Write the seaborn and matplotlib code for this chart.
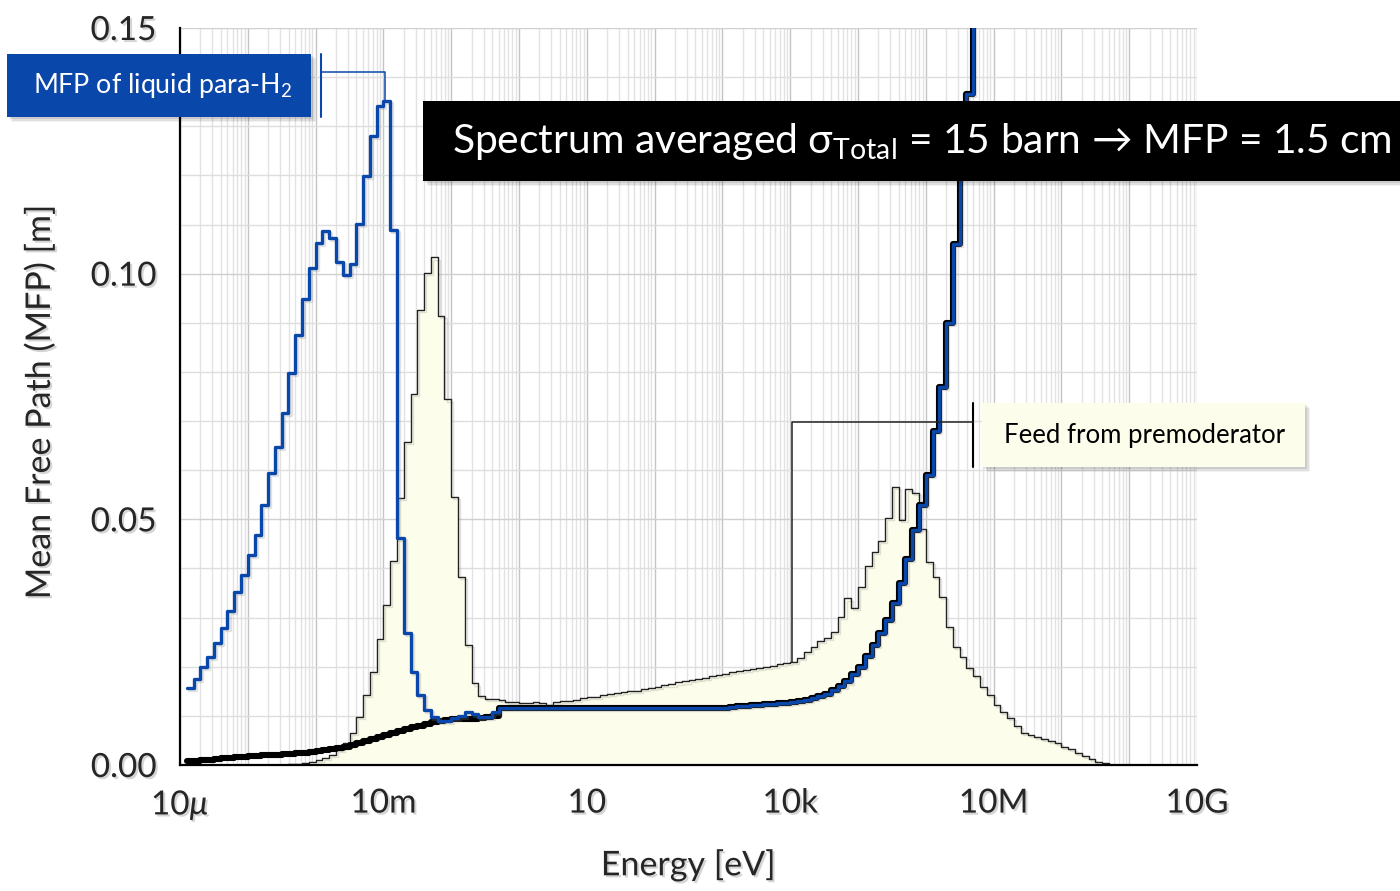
import numpy as np
import pandas as pd
import matplotlib
matplotlib.use("Agg")
import matplotlib.pyplot as plt
import matplotlib.patheffects as pe
from matplotlib.patches import Rectangle
from matplotlib.ticker import LogLocator, FuncFormatter, MultipleLocator
import seaborn as sns

# ---------------------------------------------------------------------------
# Energy grid: 10 logarithmic bins per decade from 10 ueV to 10 GeV
# ---------------------------------------------------------------------------
BINS_PER_DECADE = 10
LOG_E_MIN, LOG_E_MAX = -5, 10
edges = 10.0 ** (np.arange(LOG_E_MIN * BINS_PER_DECADE,
                           LOG_E_MAX * BINS_PER_DECADE + 1) / BINS_PER_DECADE)

# Neutron spectrum (arbitrary units on the MFP scale), bins 14 .. 138
spectrum_first_bin = 14
spectrum = [
    0.0000, 0.0001, 0.0002, 0.0003, 0.0005, 0.0007, 0.0010, 0.0014, 0.0020, 0.0030,
    0.0045, 0.0065, 0.0097, 0.0142, 0.0190, 0.0256, 0.0326, 0.0415, 0.0543, 0.0658,
    0.0756, 0.0926, 0.1002, 0.1033, 0.0914, 0.0744, 0.0546, 0.0383, 0.0244, 0.0166,
    0.0140, 0.0134, 0.0134, 0.0132, 0.0128, 0.0128, 0.0126, 0.0126, 0.0128, 0.0126,
    0.0122, 0.0128, 0.0130, 0.0130, 0.0132, 0.0136, 0.0138, 0.0138, 0.0142, 0.0144,
    0.0146, 0.0148, 0.0150, 0.0150, 0.0154, 0.0156, 0.0158, 0.0162, 0.0164, 0.0168,
    0.0170, 0.0174, 0.0176, 0.0178, 0.0182, 0.0184, 0.0186, 0.0190, 0.0192, 0.0194,
    0.0196, 0.0198, 0.0200, 0.0202, 0.0206, 0.0208, 0.0210, 0.0218, 0.0230, 0.0240,
    0.0252, 0.0258, 0.0271, 0.0301, 0.0339, 0.0319, 0.0362, 0.0405, 0.0433, 0.0456,
    0.0503, 0.0566, 0.0499, 0.0562, 0.0554, 0.0480, 0.0413, 0.0383, 0.0342, 0.0281,
    0.0240, 0.0220, 0.0197, 0.0181, 0.0159, 0.0142, 0.0122, 0.0108, 0.0096, 0.0079,
    0.0065, 0.0061, 0.0057, 0.0053, 0.0049, 0.0045, 0.0037, 0.0033, 0.0024, 0.0018,
    0.0012, 0.0006, 0.0004, 0.0001, 0.0000,
]

# Mean free path of liquid para-H2 [m], bins 1 .. 118
mfp_first_bin = 1
mfp_para_h2 = [
    0.0157, 0.0175, 0.0199, 0.0220, 0.0248, 0.0279, 0.0313, 0.0352, 0.0387, 0.0427,
    0.0468, 0.0529, 0.0594, 0.0647, 0.0716, 0.0798, 0.0875, 0.0948, 0.1011, 0.1062,
    0.1087, 0.1072, 0.1024, 0.0997, 0.1019, 0.1101, 0.1199, 0.1280, 0.1341, 0.1351,
    0.1089, 0.0462, 0.0269, 0.0189, 0.0142, 0.0112, 0.0098, 0.0090, 0.0090, 0.0096,
    0.0100, 0.0108, 0.0104, 0.0098, 0.0097, 0.0108, 0.0116, 0.0116, 0.0116, 0.0116,
    0.0116, 0.0116, 0.0116, 0.0116, 0.0116, 0.0116, 0.0116, 0.0116, 0.0116, 0.0116,
    0.0116, 0.0116, 0.0116, 0.0116, 0.0116, 0.0116, 0.0116, 0.0116, 0.0116, 0.0116,
    0.0116, 0.0116, 0.0116, 0.0116, 0.0116, 0.0116, 0.0116, 0.0116, 0.0116, 0.0116,
    0.0118, 0.0120, 0.0120, 0.0122, 0.0122, 0.0124, 0.0124, 0.0126, 0.0126, 0.0128,
    0.0130, 0.0132, 0.0136, 0.0140, 0.0145, 0.0153, 0.0161, 0.0170, 0.0185, 0.0200,
    0.0222, 0.0245, 0.0268, 0.0295, 0.0330, 0.0370, 0.0420, 0.0478, 0.0530, 0.0590,
    0.0680, 0.0770, 0.0900, 0.1060, 0.1250, 0.1365, 0.1900, 0.2600,
]

# Mean free path of the second (black) curve at low energy, bins 1 .. 46;
# above that it coincides with the para-H2 curve
mfp_low_black = [
    0.0008, 0.0009, 0.0010, 0.0011, 0.0013, 0.0014, 0.0015, 0.0016, 0.0017, 0.0018,
    0.0019, 0.0020, 0.0021, 0.0021, 0.0022, 0.0023, 0.0024, 0.0025, 0.0027, 0.0029,
    0.0030, 0.0032, 0.0034, 0.0037, 0.0041, 0.0045, 0.0049, 0.0053, 0.0057, 0.0061,
    0.0065, 0.0069, 0.0073, 0.0077, 0.0080, 0.0084, 0.0087, 0.0090, 0.0092, 0.0093,
    0.0094, 0.0094, 0.0094, 0.0095, 0.0097, 0.0100,
]

tick_values = [1e-5, 1e-2, 1e1, 1e4, 1e7, 1e10]
tick_labels = ["10$\\mu$", "10m", "10", "10k", "10M", "10G"]

BLUE = "#0a47aa"
CREAM = "#fdfdec"
W, H = 1400, 891


def step_frame(first_bin, values):
    """Bin edges and values laid out for a post-step line."""
    x = edges[first_bin:first_bin + len(values) + 1]
    y = list(values) + [values[-1]]
    return pd.DataFrame({"energy": x, "value": y})


def bin_value(first_bin, values, energy):
    idx = int(np.searchsorted(edges, energy, side="right")) - 1 - first_bin
    return values[idx]


sns.set_style("white")
plt.rcParams["font.family"] = ["Lato", "DejaVu Sans"]
plt.rcParams["mathtext.fontset"] = "custom"
plt.rcParams["mathtext.rm"] = "Lato"
plt.rcParams["mathtext.it"] = "Lato:italic"
plt.rcParams["mathtext.fallback"] = "stixsans"

fig = plt.figure(figsize=(W / 100, H / 100), dpi=100)
ax = fig.add_axes([180 / W, 1 - 765 / H, (1197 - 180) / W, (765 - 28) / H])
ax.set_xscale("log")

shadow_line = [pe.SimpleLineShadow(offset=(1.5, -1.5), shadow_color="#888888", alpha=0.25),
               pe.Normal()]

# spectrum: filled histogram with a thin outline
spec = step_frame(spectrum_first_bin, spectrum)
ax.fill_between(spec["energy"], spec["value"], step="post", color=CREAM, lw=0, zorder=2)
sns.lineplot(data=spec, x="energy", y="value", drawstyle="steps-post", estimator=None,
             sort=False, color="#222222", lw=1.0, ax=ax, zorder=3,
             path_effects=shadow_line)

# black curve (separate at low energy, underneath the para-H2 curve above)
black_vals = mfp_low_black + mfp_para_h2[len(mfp_low_black):]
blk = step_frame(mfp_first_bin, black_vals)
sns.lineplot(data=blk, x="energy", y="value", drawstyle="steps-post", estimator=None,
             sort=False, color="black", lw=4.4, ax=ax, zorder=4)

# para-H2 mean free path
h2 = step_frame(mfp_first_bin, mfp_para_h2)
sns.lineplot(data=h2, x="energy", y="value", drawstyle="steps-post", estimator=None,
             sort=False, color=BLUE, lw=2.4, ax=ax, zorder=5,
             path_effects=shadow_line)

# axes, ticks, grid
ax.set_xlim(1e-5, 1e10)
ax.set_ylim(0, 0.15)
ax.xaxis.set_major_locator(LogLocator(base=10, numticks=40))
ax.xaxis.set_minor_locator(LogLocator(base=10, subs=np.arange(2, 10), numticks=40))
label_map = dict(zip(np.round(np.log10(tick_values)).astype(int), tick_labels))
ax.xaxis.set_major_formatter(FuncFormatter(
    lambda v, pos: label_map.get(int(round(np.log10(v))), "")))
ax.yaxis.set_major_locator(MultipleLocator(0.05))
ax.yaxis.set_minor_locator(MultipleLocator(0.01))
ax.yaxis.set_major_formatter(FuncFormatter(lambda v, pos: f"{v:.2f}"))

ax.grid(True, which="major", axis="x", color="#c4c4c4", lw=1.0, zorder=0)
ax.grid(True, which="minor", axis="x", color="#e2e2e2", lw=1.0, zorder=0)
ax.grid(True, which="major", axis="y", color="#d0d0d0", lw=1.0, zorder=0)
ax.grid(True, which="minor", axis="y", color="#dedede", lw=1.0, zorder=0)
ax.set_axisbelow(True)

for side in ("top", "right"):
    ax.spines[side].set_visible(False)
for side in ("left", "bottom"):
    ax.spines[side].set_color("black")
    ax.spines[side].set_linewidth(1.6)
    ax.spines[side].set_zorder(6)

ax.tick_params(which="major", direction="out", length=10, width=1.3, color="black",
               labelsize=24, pad=7)
ax.tick_params(which="minor", direction="out", length=5.5, width=1.2, color="black")

text_shadow = [pe.withSimplePatchShadow(offset=(1.5, -1.5), shadow_rgbFace="#777777",
                                        alpha=0.3)]
for lbl in ax.get_xticklabels() + ax.get_yticklabels():
    lbl.set_path_effects(text_shadow)

ax.set_xlabel("Energy [eV]", fontsize=24.5, path_effects=text_shadow)
ax.set_ylabel("Mean Free Path (MFP) [m]", fontsize=24.5, path_effects=text_shadow)
ax.xaxis.set_label_coords(0.4995, -0.113)
ax.yaxis.set_label_coords(-0.122, 0.4925)


def px_box(x0, y0, x1, y1, face, shadow=True):
    """Rectangle given in figure pixels (origin top-left)."""
    if shadow:
        for off, a in ((5, 0.05), (3.5, 0.07), (2, 0.09)):
            fig.patches.append(Rectangle(((x0 + off) / W, 1 - (y1 + off) / H),
                                         (x1 - x0) / W, (y1 - y0) / H,
                                         transform=fig.transFigure, facecolor="black",
                                         edgecolor="none", alpha=a, zorder=8))
    fig.patches.append(Rectangle((x0 / W, 1 - y1 / H), (x1 - x0) / W, (y1 - y0) / H,
                                 transform=fig.transFigure, facecolor=face,
                                 edgecolor="none", zorder=9))


# label for the para-H2 curve
px_box(7, 54, 311, 117, BLUE)
fig.text(33 / W, 1 - 86 / H, "MFP of liquid para-H$_2$", color="white", fontsize=19.3,
         ha="left", va="center", zorder=10)
e_bar = 10 ** -2.92
e_peak = 10 ** -1.976
peak_val = bin_value(mfp_first_bin, mfp_para_h2, e_peak)
ax.plot([e_bar, e_bar], [0.1319, 0.1447], color=BLUE, lw=1.5, clip_on=False, zorder=7)
ax.plot([e_bar, e_peak, e_peak], [0.1410, 0.1410, peak_val], color=BLUE, lw=1.1,
        clip_on=False, zorder=7)

# spectrum-averaged cross section banner
px_box(423, 101, 1400, 181, "black")
fig.text(452 / W, 1 - 141 / H,
         "Spectrum averaged σ$_{\\mathrm{Total}}$ = 15 barn → MFP = 1.5 cm",
         color="white", fontsize=29.3, ha="left", va="center", zorder=10)

# premoderator feed annotation
px_box(982, 403, 1305, 467, CREAM)
fig.text(1004 / W, 1 - 436 / H, "Feed from premoderator", color="black", fontsize=18.5,
         ha="left", va="center", zorder=10)
e_feed = 10 ** 4.027
e_bracket = 10 ** 6.696
feed_val = bin_value(spectrum_first_bin, spectrum, e_feed)
ax.plot([e_bracket, e_bracket], [0.0606, 0.0737], color="black", lw=1.5, clip_on=False,
        zorder=7)
ax.plot([e_bracket, e_feed, e_feed], [0.0698, 0.0698, feed_val], color="#222222", lw=1.1,
        clip_on=False, zorder=7)

fig.savefig("out.png", dpi=100)
